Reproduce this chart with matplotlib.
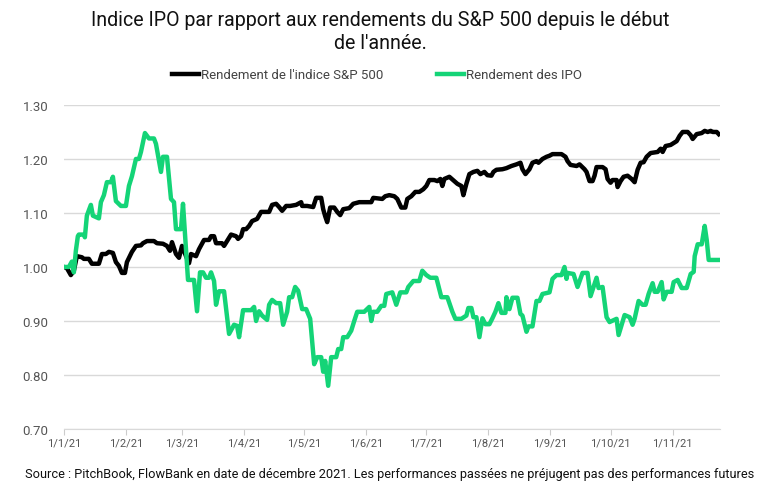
import numpy as np
import matplotlib
matplotlib.use("Agg")
import matplotlib.pyplot as plt
import matplotlib.dates as mdates
import pandas as pd

plt.rcParams['font.family'] = ['Roboto', 'DejaVu Sans']

# days since 1 Jan 2021, value (base 1.00)
sp_days = [0, 1.5, 3.5, 5, 6.5, 9, 10, 12.5, 14, 17.5, 19, 21, 22.5, 24.5, 26, 27.5, 29, 30.5,
           31.5, 34, 36, 38.5, 39.5, 41.5, 45, 46.5, 49.5, 51.5, 53, 54, 56, 57.5, 59, 61, 62.5,
           63.5, 66, 67.5, 70, 72.5, 73.5, 75, 76, 79, 80, 81.5, 83.5, 86, 87, 88.5, 89.5, 91,
           92.5, 94, 96.5, 98.5, 102.5, 104, 106, 107.5, 109, 111, 113, 116, 118.5, 119, 121.5,
           124.5, 126, 128.5, 129.5, 130.5, 131.5, 133, 135, 136.5, 138, 139.5, 142.5, 144.5,
           147.5, 153.5, 154.5, 159, 160.5, 162.5, 165, 166.5, 168.5, 170.5, 171.5, 173.5,
           175.5, 177.5, 179.5, 181, 182.5, 185, 186.5, 188, 189, 190, 192.5, 195, 196.5, 198.5,
           199.5, 201, 202.5, 204.5, 206.5, 208, 210, 211.5, 213.5, 214.5, 216, 219, 221, 223.5,
           226, 228, 229, 230.5, 232.5, 234, 236, 237, 239, 241, 242.5, 244, 248.5, 250.5, 251.5,
           253, 256, 257.5, 260, 261, 262.5, 264, 265, 266, 269, 270.5, 271.5, 273, 274, 276,
           276.5, 278, 279.5, 281.5, 283.5, 285, 286.5, 288, 289.5, 291, 293, 296.5, 298, 299,
           300.5, 303, 306, 307.5, 309, 311.5, 313, 314, 316, 318.5, 320, 321.5, 323, 324, 326, 327]
sp_vals = [1.000, 0.998, 0.985, 0.993, 1.020, 1.018, 1.015, 1.015, 1.006, 1.006, 1.024, 1.024,
           1.028, 1.026, 1.009, 1.002, 0.989, 0.989, 1.009, 1.028, 1.039, 1.040, 1.044, 1.048,
           1.048, 1.044, 1.043, 1.039, 1.030, 1.046, 1.024, 1.017, 1.039, 1.020, 1.007, 1.024,
           1.020, 1.033, 1.050, 1.050, 1.057, 1.057, 1.044, 1.044, 1.039, 1.048, 1.060, 1.057,
           1.052, 1.057, 1.070, 1.070, 1.076, 1.085, 1.089, 1.102, 1.102, 1.115, 1.117, 1.111,
           1.104, 1.113, 1.113, 1.115, 1.120, 1.113, 1.113, 1.111, 1.128, 1.128, 1.107, 1.094,
           1.083, 1.110, 1.110, 1.102, 1.096, 1.107, 1.109, 1.117, 1.120, 1.120, 1.128, 1.126,
           1.131, 1.133, 1.131, 1.126, 1.110, 1.110, 1.126, 1.131, 1.139, 1.139, 1.144, 1.150,
           1.161, 1.161, 1.159, 1.163, 1.150, 1.163, 1.167, 1.159, 1.154, 1.150, 1.133, 1.154,
           1.172, 1.176, 1.178, 1.172, 1.176, 1.170, 1.169, 1.176, 1.180, 1.181, 1.183, 1.187,
           1.190, 1.193, 1.181, 1.172, 1.181, 1.193, 1.196, 1.193, 1.200, 1.204, 1.206, 1.209,
           1.209, 1.204, 1.196, 1.189, 1.187, 1.190, 1.181, 1.176, 1.159, 1.159, 1.169, 1.185,
           1.185, 1.181, 1.163, 1.156, 1.161, 1.161, 1.148, 1.159, 1.167, 1.169, 1.163, 1.157,
           1.180, 1.193, 1.194, 1.204, 1.211, 1.213, 1.219, 1.213, 1.224, 1.226, 1.233, 1.243,
           1.250, 1.250, 1.244, 1.237, 1.246, 1.248, 1.252, 1.250, 1.252, 1.250, 1.250, 1.246]

ipo_days = [0, 2.5, 4, 5, 6, 7, 7.5, 10, 10.5, 11.5, 13.5, 14.5, 17.5, 18.5, 20, 21.5, 23.5, 24.5,
            26, 28.5, 31, 32.5, 34, 36, 37.5, 38.5, 40.5, 42.5, 45, 46, 48.5, 49.5, 51.5, 53.5,
            55, 56, 58.5, 59.5, 61, 62, 65, 66.5, 68, 69.5, 71, 72.5, 73.5, 75, 76, 77.5, 80,
            82.5, 85, 86.5, 87.5, 89.5, 93.5, 95, 96, 97.5, 99, 101.5, 102.5, 104, 106, 108,
            109.5, 111.5, 112.5, 114, 115.5, 117, 119, 121, 123, 125, 126.5, 128.5, 129.5, 130.5,
            132, 133.5, 136, 137, 138.5, 139.5, 141.5, 143.5, 145, 146.5, 150, 152.5, 153.5,
            154.5, 156.5, 158.5, 160, 161, 164, 166, 168, 171, 172, 174.5, 177.5, 179, 181, 183,
            186, 188.5, 191.5, 194, 195.5, 198.5, 201, 202, 203.5, 204.5, 206, 207.5, 209, 210.5,
            212.5, 214, 215.5, 217, 218.5, 220.5, 221, 222.5, 224, 226.5, 228, 229, 231, 232, 234,
            236, 237.5, 239, 242.5, 244, 246, 248.5, 250, 251, 251.5, 254.5, 256.5, 259, 261.5,
            263, 266, 267, 269, 271, 272.5, 276, 277, 280, 282.5, 284, 285, 287, 289, 290.5, 292,
            294, 295, 296.5, 298.5, 299.5, 301, 303.5, 304.5, 306.5, 308.5, 311, 313, 314.5, 315,
            316.5, 318.5, 320, 321, 322, 327.5]
ipo_vals = [1.000, 1.000, 1.010, 0.990, 1.030, 1.057, 1.060, 1.060, 1.055, 1.095, 1.115, 1.095,
            1.090, 1.120, 1.133, 1.157, 1.157, 1.167, 1.122, 1.113, 1.113, 1.150, 1.168, 1.200,
            1.200, 1.213, 1.248, 1.238, 1.238, 1.228, 1.176, 1.204, 1.204, 1.126, 1.120, 1.070,
            1.070, 1.117, 1.033, 0.976, 0.976, 0.918, 0.990, 0.990, 0.980, 0.980, 0.990, 0.974,
            0.930, 0.955, 0.955, 0.876, 0.893, 0.891, 0.870, 0.920, 0.920, 0.926, 0.900, 0.918,
            0.910, 0.902, 0.930, 0.939, 0.933, 0.933, 0.893, 0.917, 0.944, 0.944, 0.963, 0.956,
            0.922, 0.922, 0.904, 0.820, 0.833, 0.833, 0.806, 0.826, 0.780, 0.833, 0.833, 0.848,
            0.848, 0.870, 0.870, 0.882, 0.900, 0.917, 0.917, 0.926, 0.900, 0.917, 0.917, 0.928,
            0.928, 0.950, 0.953, 0.930, 0.953, 0.953, 0.963, 0.974, 0.974, 0.993, 0.985, 0.980,
            0.980, 0.944, 0.944, 0.917, 0.904, 0.904, 0.910, 0.924, 0.924, 0.907, 0.907, 0.870,
            0.905, 0.894, 0.894, 0.905, 0.917, 0.933, 0.915, 0.915, 0.944, 0.922, 0.943, 0.943,
            0.913, 0.910, 0.880, 0.890, 0.890, 0.937, 0.937, 0.950, 0.953, 0.978, 0.985, 0.985,
            1.000, 0.978, 0.989, 0.987, 0.963, 0.989, 0.989, 0.946, 0.980, 0.961, 0.963, 0.907,
            0.898, 0.904, 0.874, 0.911, 0.907, 0.893, 0.904, 0.937, 0.930, 0.930, 0.950, 0.970,
            0.954, 0.954, 0.972, 0.940, 0.954, 0.954, 0.972, 0.976, 0.961, 0.961, 0.987, 0.991,
            1.020, 1.042, 1.042, 1.076, 1.050, 1.013, 1.013]

start = pd.Timestamp("2021-01-01")
sp_dates = start + pd.to_timedelta(sp_days, unit="D")
ipo_dates = start + pd.to_timedelta(ipo_days, unit="D")

month_ticks = pd.date_range("2021-01-01", "2021-11-01", freq="MS")
tick_labels = [f"1/{d.month}/21" for d in month_ticks]

green = "#14d477"

fig = plt.figure(figsize=(7.6, 4.89), dpi=100)
ax = fig.add_axes([0.084, 0.1207, 0.863, 0.6626])

ax.plot(sp_dates, sp_vals, color="black", lw=3.2, solid_joinstyle="round",
        label="Rendement de l'indice S&P 500", zorder=3)
ax.plot(ipo_dates, ipo_vals, color=green, lw=3.2, solid_joinstyle="round",
        label="Rendement des IPO", zorder=3)

ax.set_ylim(0.70, 1.30)
ax.set_yticks(np.arange(0.70, 1.31, 0.10))
ax.yaxis.set_major_formatter(plt.FuncFormatter(lambda v, p: f"{v:.2f}"))
ax.set_xlim(start, start + pd.Timedelta(days=327.5))
ax.set_xticks(month_ticks)
ax.set_xticklabels(tick_labels)

ax.grid(axis="y", color="#d9d9d9", lw=1)
ax.set_axisbelow(True)
for s in ["top", "right", "left"]:
    ax.spines[s].set_visible(False)
ax.spines["bottom"].set_color("#d9d9d9")
ax.tick_params(axis="y", length=0, pad=11, labelsize=9.5, labelcolor="#555555")
ax.tick_params(axis="x", length=4, color="#cccccc", pad=2, labelsize=8, labelcolor="#555555")

fig.text(0.5, 0.958, "Indice IPO par rapport aux rendements du S&P 500 depuis le début",
         ha="center", va="center", fontsize=14.1, color="#111111")
fig.text(0.5, 0.912, "de l'année.", ha="center", va="center", fontsize=14.1, color="#111111")

leg = fig.legend(loc="center", bbox_to_anchor=(0.496, 0.845), ncol=2, frameon=False,
                 fontsize=9.5, handlelength=2.1, handletextpad=0.15, columnspacing=4.0)
for t in leg.get_texts():
    t.set_color("#444444")

fig.text(0.513, 0.029, "Source : PitchBook, FlowBank en date de décembre 2021. Les performances "
         "passées ne préjugent pas des performances futures",
         ha="center", va="center", fontsize=9.2, color="#111111")

fig.savefig("out.png", dpi=100)
